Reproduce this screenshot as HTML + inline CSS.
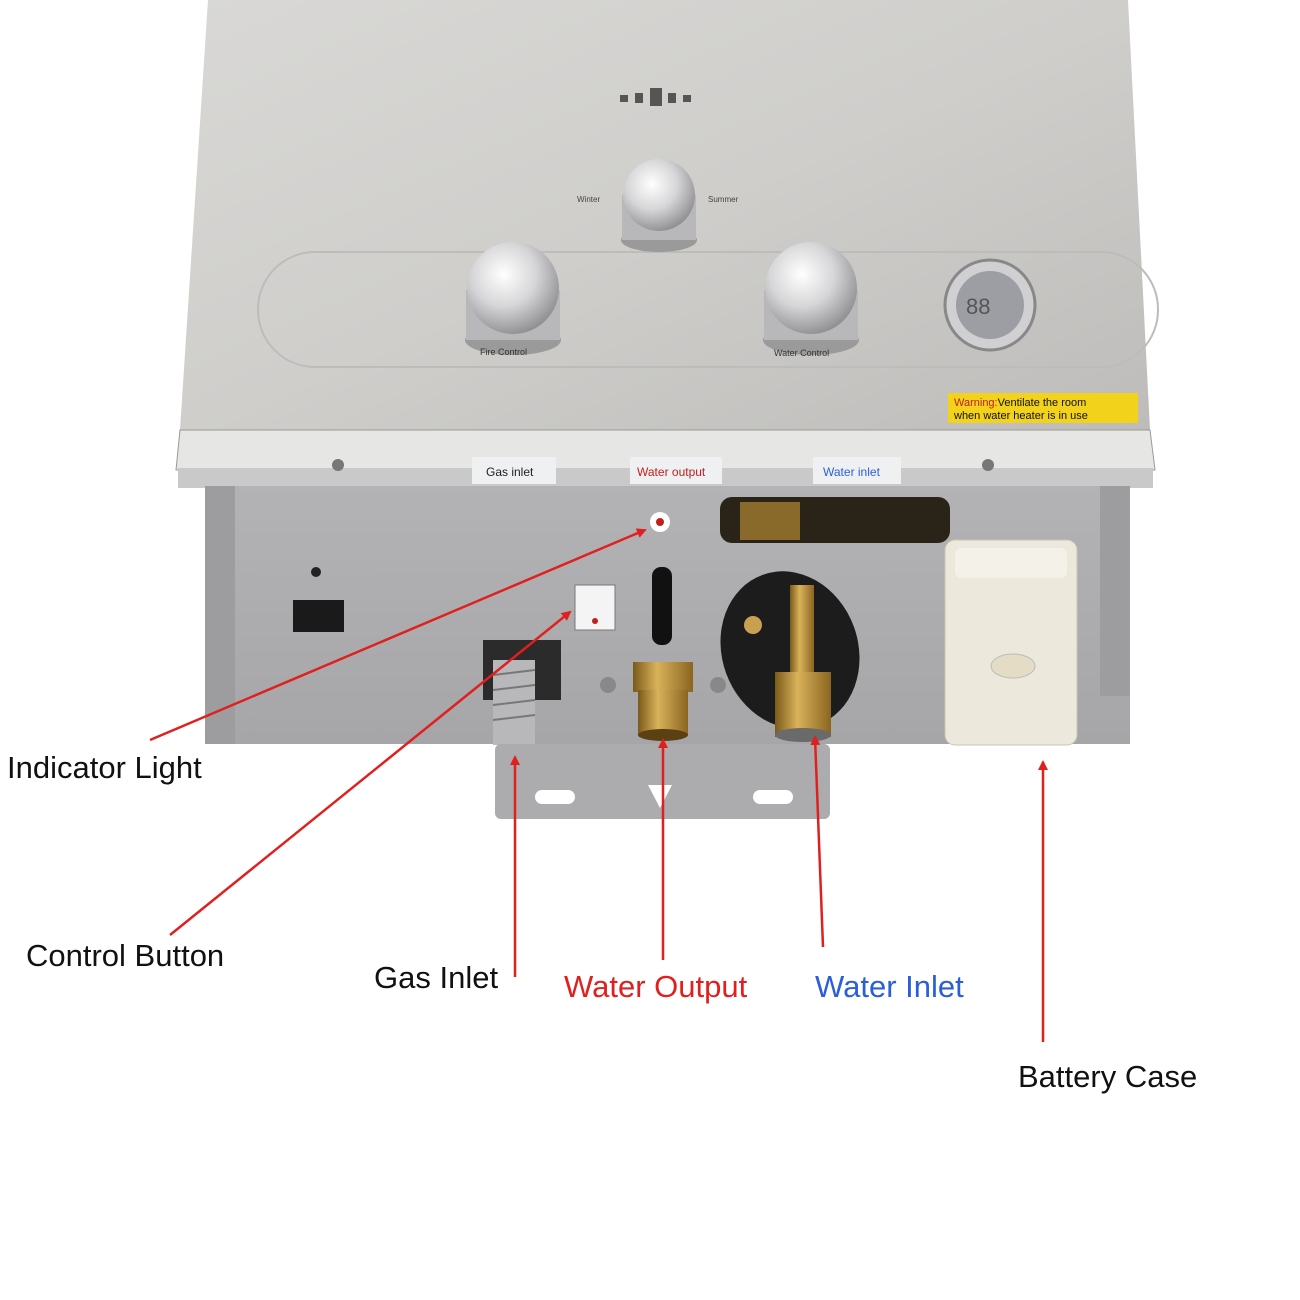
<!DOCTYPE html>
<html><head><meta charset="utf-8"><style>
html,body{margin:0;padding:0;background:#fff}
svg{display:block}
text{font-family:"Liberation Sans",sans-serif}
</style></head><body>
<svg width="1300" height="1300" viewBox="0 0 1300 1300" xmlns="http://www.w3.org/2000/svg">
<defs>
<linearGradient id="panel" x1="0" y1="0" x2="1" y2="1">
<stop offset="0" stop-color="#d9d8d6"/><stop offset="0.5" stop-color="#cfcecb"/><stop offset="1" stop-color="#bdbcba"/>
</linearGradient>
<linearGradient id="lower" x1="0" y1="0" x2="0" y2="1">
<stop offset="0" stop-color="#b3b3b5"/><stop offset="1" stop-color="#a6a6a8"/>
</linearGradient>
<radialGradient id="knob" cx="0.4" cy="0.35" r="0.7">
<stop offset="0" stop-color="#ffffff"/><stop offset="0.5" stop-color="#d6d6d8"/><stop offset="1" stop-color="#8a8a8c"/>
</radialGradient>
<linearGradient id="brass" x1="0" y1="0" x2="1" y2="0">
<stop offset="0" stop-color="#7a5a1a"/><stop offset="0.4" stop-color="#d9b25a"/><stop offset="1" stop-color="#8a6520"/>
</linearGradient>
<marker id="ah" markerWidth="10" markerHeight="10" refX="8" refY="5" orient="auto" markerUnits="userSpaceOnUse">
<path d="M0,0 L10,5 L0,10 z" fill="#e0201f"/>
</marker>
</defs>
<polygon points="208,0 1128,0 1150,430 180,430" fill="url(#panel)"/>
<rect x="258" y="252" width="900" height="115" rx="57" fill="none" stroke="#bdbcba" stroke-width="2"/>
<g fill="#555"><rect x="620" y="95" width="8" height="7"/><rect x="635" y="93" width="8" height="10"/><rect x="650" y="88" width="12" height="18"/><rect x="668" y="93" width="8" height="10"/><rect x="683" y="95" width="8" height="7"/></g>
<ellipse cx="659" cy="240" rx="38" ry="12" fill="#9a9a9a"/>
<rect x="622" y="195" width="74" height="45" fill="#b8b8ba"/>
<circle cx="659" cy="195" r="36" fill="url(#knob)"/>
<text x="577" y="202" font-size="8" fill="#444">Winter</text><text x="708" y="202" font-size="8" fill="#444">Summer</text>
<ellipse cx="513" cy="340" rx="48" ry="15" fill="#9a9a9a"/>
<rect x="466" y="290" width="94" height="50" fill="#b8b8ba"/>
<circle cx="513" cy="288" r="46" fill="url(#knob)"/>
<text x="480" y="355" font-size="9" fill="#333">Fire Control</text>
<ellipse cx="811" cy="340" rx="48" ry="15" fill="#9a9a9a"/>
<rect x="764" y="290" width="94" height="50" fill="#b8b8ba"/>
<circle cx="811" cy="288" r="46" fill="url(#knob)"/>
<text x="774" y="356" font-size="9" fill="#333">Water Control</text>
<circle cx="990" cy="305" r="45" fill="#d0d0d2" stroke="#888" stroke-width="3"/>
<circle cx="990" cy="305" r="34" fill="#9c9ea3"/>
<text x="966" y="314" font-size="22" fill="#555">88</text>
<rect x="948" y="393" width="190" height="30" fill="#f2d21a"/>
<text x="954" y="406" font-size="11" fill="#111"><tspan fill="#c0201f">Warning:</tspan>Ventilate the room</text>
<text x="954" y="419" font-size="11" fill="#111">when water heater is in use</text>
<polygon points="180,430 1150,430 1155,470 176,470" fill="#e6e6e4" stroke="#999" stroke-width="1"/>
<rect x="178" y="468" width="975" height="20" fill="#c9c9c9"/>
<circle cx="338" cy="465" r="6" fill="#777"/><circle cx="988" cy="465" r="6" fill="#777"/>
<rect x="472" y="457" width="84" height="27" fill="#eef0f2"/><text x="486" y="476" font-size="12" fill="#222">Gas inlet</text>
<rect x="630" y="457" width="92" height="27" fill="#eef0f2"/><text x="637" y="476" font-size="12" fill="#c0201f">Water output</text>
<rect x="813" y="457" width="88" height="27" fill="#eef0f2"/><text x="823" y="476" font-size="12" fill="#2b5fd9">Water inlet</text>
<rect x="205" y="486" width="925" height="258" fill="url(#lower)"/>
<rect x="205" y="486" width="30" height="258" fill="#9d9d9f"/>
<rect x="1100" y="486" width="30" height="210" fill="#9d9d9f"/>
<circle cx="316" cy="572" r="5" fill="#222"/>
<rect x="293" y="600" width="51" height="32" fill="#1a1a1a"/>
<circle cx="660" cy="522" r="10" fill="#fff"/><circle cx="660" cy="522" r="4" fill="#c0201f"/>
<rect x="720" y="497" width="230" height="46" rx="12" fill="#2a2418"/>
<rect x="740" y="502" width="60" height="38" fill="#8a6a2a"/>
<rect x="575" y="585" width="40" height="45" fill="#f4f4f4" stroke="#777"/>
<circle cx="595" cy="621" r="3" fill="#c0201f"/>
<rect x="652" y="567" width="20" height="78" rx="9" fill="#111"/>
<rect x="483" y="640" width="78" height="60" fill="#2b2b2b"/>
<rect x="493" y="660" width="42" height="85" fill="#b8b8bb"/>
<g stroke="#777" stroke-width="2"><line x1="493" y1="675" x2="535" y2="670"/><line x1="493" y1="690" x2="535" y2="685"/><line x1="493" y1="705" x2="535" y2="700"/><line x1="493" y1="720" x2="535" y2="715"/></g>
<circle cx="608" cy="685" r="8" fill="#888"/><circle cx="718" cy="685" r="8" fill="#888"/>
<rect x="633" y="662" width="60" height="30" fill="url(#brass)"/>
<rect x="638" y="690" width="50" height="45" fill="url(#brass)"/>
<ellipse cx="663" cy="735" rx="25" ry="6" fill="#5a4012"/>
<ellipse cx="790" cy="650" rx="68" ry="80" transform="rotate(-20 790 650)" fill="#1c1c1c"/>
<rect x="790" y="585" width="24" height="90" fill="url(#brass)"/>
<rect x="775" y="672" width="56" height="65" fill="url(#brass)"/>
<ellipse cx="803" cy="735" rx="28" ry="7" fill="#6a6a6a"/>
<circle cx="753" cy="625" r="9" fill="#c9a050"/>
<rect x="945" y="540" width="132" height="205" rx="10" fill="#ece8dc" stroke="#c9c4b4"/>
<rect x="955" y="548" width="112" height="30" rx="6" fill="#f4f1e8"/>
<ellipse cx="1013" cy="666" rx="22" ry="12" fill="#e4dcc4" stroke="#bbb"/>
<rect x="495" y="744" width="335" height="75" rx="6" fill="#acacae"/>
<rect x="535" y="790" width="40" height="14" rx="7" fill="#fff"/>
<rect x="753" y="790" width="40" height="14" rx="7" fill="#fff"/>
<path d="M648,785 L672,785 L660,808 Z" fill="#fff"/>
<g stroke="#e0201f" stroke-width="2.5" fill="none" marker-end="url(#ah)">
<line x1="150" y1="740" x2="645" y2="530"/>
<line x1="170" y1="935" x2="570" y2="612"/>
<line x1="515" y1="977" x2="515" y2="757"/>
<line x1="663" y1="960" x2="663" y2="740"/>
<line x1="823" y1="947" x2="815" y2="737"/>
<line x1="1043" y1="1042" x2="1043" y2="762"/>
</g>
<g font-size="31" fill="#111">
<text x="7" y="778">Indicator Light</text>
<text x="26" y="966">Control Button</text>
<text x="374" y="988">Gas Inlet</text>
<text x="564" y="997" fill="#e0201f">Water Output</text>
<text x="815" y="997" fill="#2b5fd9">Water Inlet</text>
<text x="1018" y="1087">Battery Case</text>
</g>
</svg>
</body></html>
